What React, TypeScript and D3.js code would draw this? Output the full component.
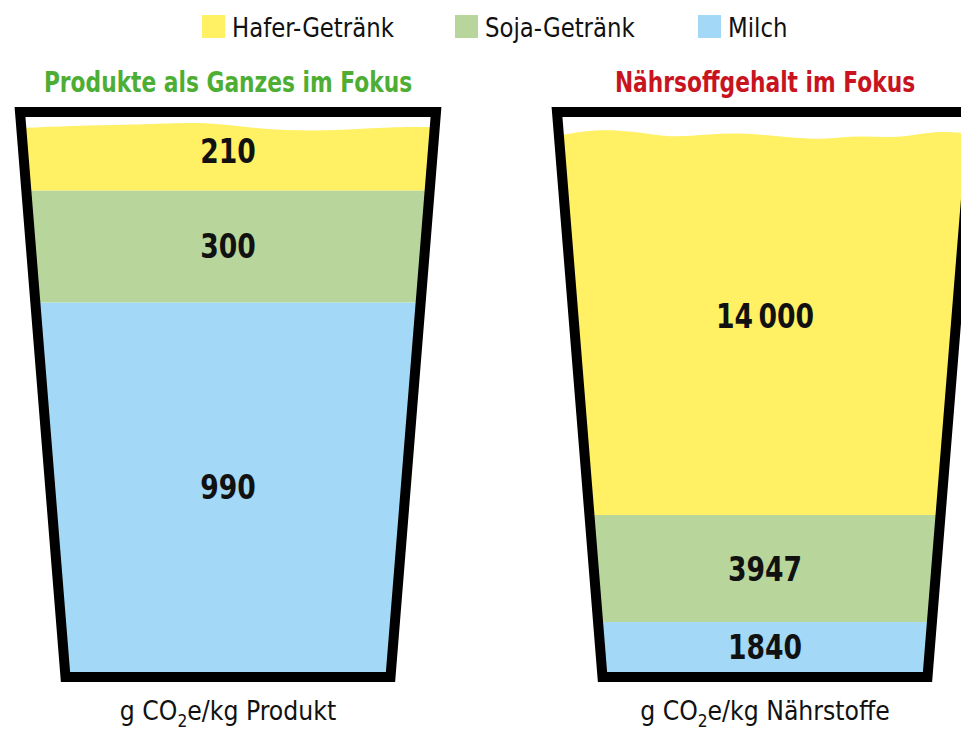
import React from "react";
import * as d3 from "d3";

// Sorten (von oben nach unten im Becher)
const sorten = ["Hafer-Getränk", "Soja-Getränk", "Milch"];
const farben = ["#fff064", "#b8d69b", "#a3d9f6"];

// g CO2e je kg Produkt / je kg Nährstoffe
const produktWerte = [210, 300, 990];
const naehrstoffWerte = [14000, 3947, 1840];
const wertLabels = [["210", "300", "990"], ["14\u2009000", "3947", "1840"]];

const titel = ["Produkte als Ganzes im Fokus", "Nährsoffgehalt im Fokus"];
const titelFarben = ["#4dae33", "#c8141e"];
const einheiten = ["Produkt", "Nährstoffe"];

// Wellen an der Oberfläche (Abweichung in px)
const wellen = [
  [1, -1, -2, -3, -5, 1, 4, 3, 0, 0],
  [1, -6, -4, 3, -1, -2, 2, 5, 0, 4, -5, -1],
];

const W = 961;
const H = 734;
const FONT = "'DejaVu Sans Condensed', 'Liberation Sans Narrow', 'Roboto', sans-serif";

// Becher-Geometrie (Mittellinie der Kontur)
const cupTop = 112;
const cupBottom = 677;
const topHalf = 208;
const bottomHalf = 162.5;
const stroke = 10;
const innerBottom = cupBottom - stroke / 2;
const rimInner = cupTop + stroke / 2;
const cupCenters = [228, 765];
const fillTops = [112, 135];

// schmaler gesetzter Text (horizontal gestaucht)
function Narrow({
  x,
  y,
  sx,
  children,
  ...rest
}: { x: number; y: number; sx: number; children: React.ReactNode } & Record<string, any>) {
  return (
    <text transform={`translate(${x},${y}) scale(${sx},1)`} fontFamily={FONT} {...rest}>
      {children}
    </text>
  );
}

function Cup({ idx, werte }: { idx: number; werte: number[] }) {
  const cx = cupCenters[idx];
  const total = d3.sum(werte);
  const y = d3.scaleLinear().domain([0, total]).range([innerBottom, fillTops[idx]]);

  // Milch unten, dann Soja, dann Hafer
  const order = [2, 1, 0];
  const cum = d3.cumsum(order.map((i) => werte[i]));
  const segs = order.map((i, k) => ({
    i,
    y0: y(k === 0 ? 0 : cum[k - 1]),
    y1: y(cum[k]),
  }));

  const poly: [number, number][] = [
    [cx - topHalf, cupTop],
    [cx + topHalf, cupTop],
    [cx + bottomHalf, cupBottom],
    [cx - bottomHalf, cupBottom],
  ];
  const polyStr = poly.map((p) => p.join(",")).join(" ");
  const clipId = `cup-clip-${idx}`;

  const xw = d3
    .scaleLinear()
    .domain([0, wellen[idx].length - 1])
    .range([cx - topHalf, cx + topHalf]);
  const waveLine = d3
    .line<number>()
    .x((_, j) => xw(j))
    .y((d) => d)
    .curve(d3.curveBasis);

  return (
    <g>
      <defs>
        <clipPath id={clipId}>
          <polygon points={polyStr} />
        </clipPath>
      </defs>
      <g clipPath={`url(#${clipId})`}>
        {segs.map((s, k) => {
          if (k === segs.length - 1) {
            const top = Math.max(s.y1, rimInner + 10);
            const pts = wellen[idx].map((o) => top + o);
            const d =
              waveLine(pts) +
              `L${cx + topHalf},${s.y0}L${cx - topHalf},${s.y0}Z`;
            return <path key={k} d={d} fill={farben[s.i]} />;
          }
          return (
            <rect
              key={k}
              x={cx - topHalf - 10}
              y={s.y1}
              width={topHalf * 2 + 20}
              height={s.y0 - s.y1}
              fill={farben[s.i]}
            />
          );
        })}
      </g>
      <polygon
        points={polyStr}
        fill="none"
        stroke="#000"
        strokeWidth={stroke}
        strokeLinejoin="miter"
      />
      {segs.map((s, k) => {
        const top = k === segs.length - 1 ? Math.min(s.y1, rimInner) : s.y1;
        return (
          <Narrow
            key={k}
            x={cx}
            y={(top + s.y0) / 2 + 12}
            sx={0.87}
            textAnchor="middle"
            fontWeight="bold"
            fontSize={34}
            fill="#111"
          >
            {wertLabels[idx][s.i]}
          </Narrow>
        );
      })}
      <Narrow
        x={cx}
        y={92}
        sx={0.865}
        textAnchor="middle"
        fontWeight="bold"
        fontSize={28}
        fill={titelFarben[idx]}
      >
        {titel[idx]}
      </Narrow>
      <Narrow x={cx} y={720} sx={1.01} textAnchor="middle" fontSize={26} fill="#111">
        g CO
        <tspan fontSize={17} dy={7}>
          2
        </tspan>
        <tspan dy={-7}>e/kg {einheiten[idx]}</tspan>
      </Narrow>
    </g>
  );
}

const legendX = [202, 455, 698];

export default function App() {
  return (
    <svg
      width={W}
      height={H}
      style={{ position: "absolute", left: 0, top: 0, background: "#fff" }}
    >
      {sorten.map((s, i) => (
        <g key={s} transform={`translate(${legendX[i]},15)`}>
          <rect width={23} height={23} fill={farben[i]} />
          <Narrow x={30} y={22} sx={0.94} fontSize={27} fill="#111">
            {s}
          </Narrow>
        </g>
      ))}
      <Cup idx={0} werte={produktWerte} />
      <Cup idx={1} werte={naehrstoffWerte} />
    </svg>
  );
}
